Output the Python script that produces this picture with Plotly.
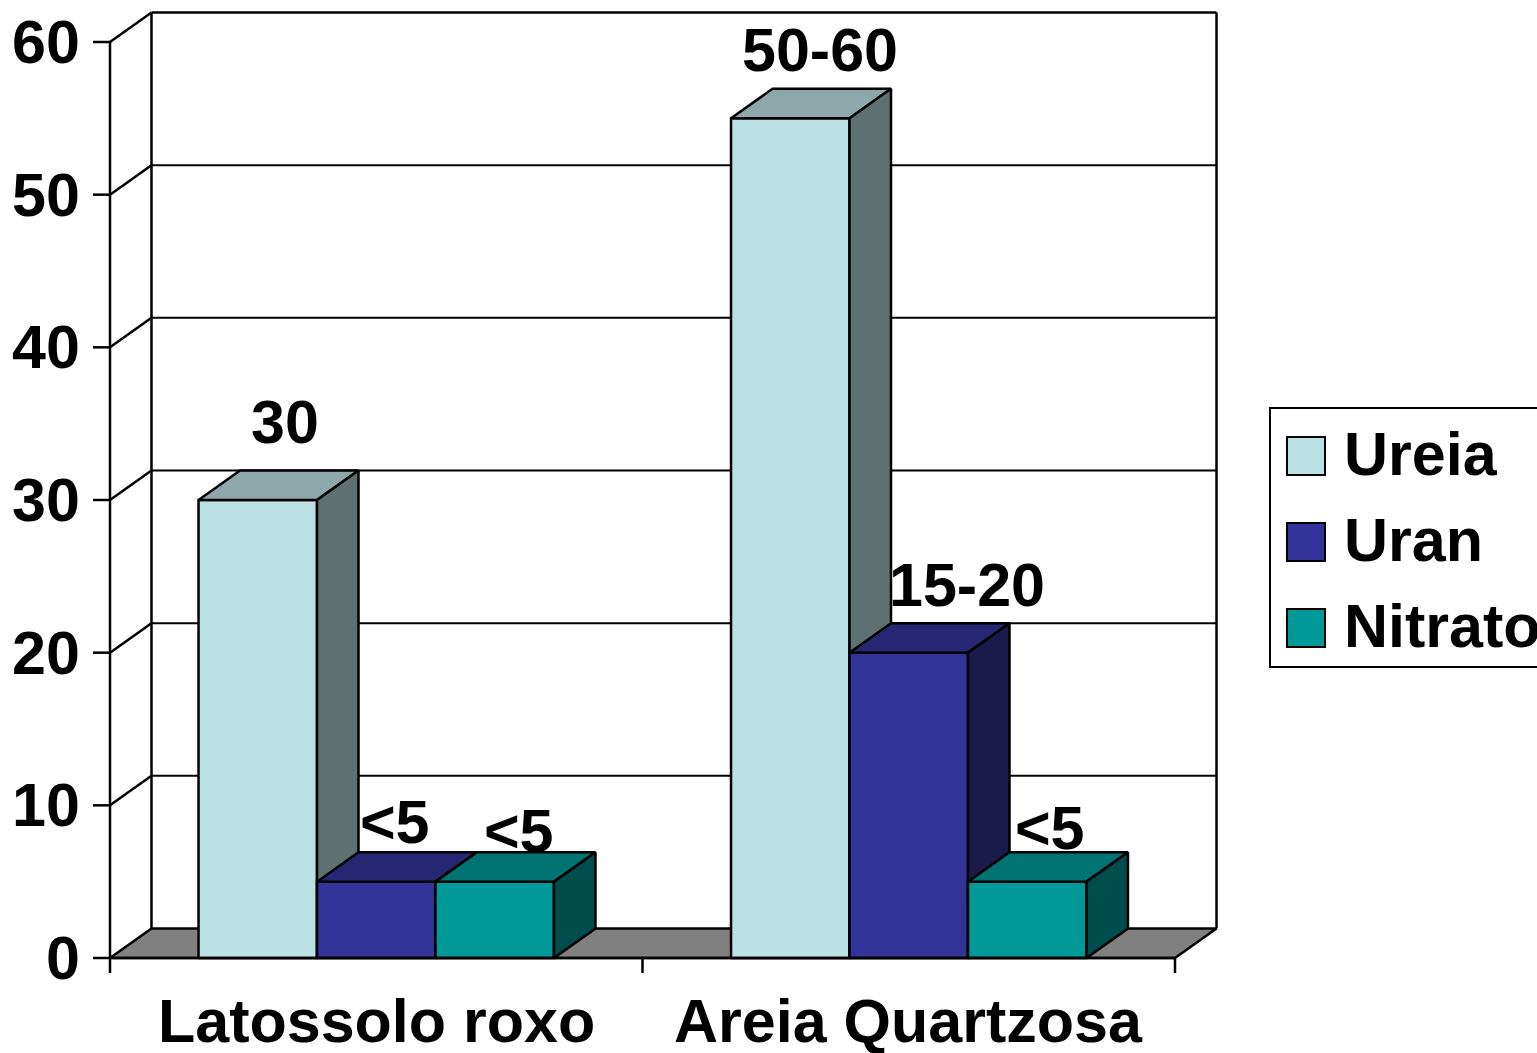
import plotly.graph_objects as go

# ---------------- data ----------------
categories = ["Latossolo roxo", "Areia Quartzosa"]
series_names = ["Ureia", "Uran", "Nitrato"]
ureia = [30, 55]
uran = [5, 20]
nitrato = [5, 5]
ureia_labels = ["30", "50-60"]
uran_labels = ["<5", "15-20"]
nitrato_labels = ["<5", "<5"]
y_ticks = [0, 10, 20, 30, 40, 50, 60]

# ---------------- styling ----------------
W, H = 1537, 1053
X0_PX, CAT_PX = 110, 532.5          # left edge of category axis, pixels per category
Y0_PX, UNIT_PX = 958, 916 / 60      # zero line, pixels per value unit
DEPTH_X_PX, DEPTH_Y_PX = 41.5, 29.5
DX = DEPTH_X_PX / CAT_PX
DY = DEPTH_Y_PX / UNIT_PX
BARGAP = 0.3325
FONT = "Liberation Sans, Arial, Helvetica, sans-serif"
FS = 61
LW = 2.5

front_colors = ["#BBE0E3", "#333399", "#009999"]
top_colors = ["#8CA8AA", "#262673", "#007373"]
side_colors = ["#5E7072", "#1A1A4D", "#004D4D"]
# manual label nudges (pixels): x offset from top-face centre, baseline height above bar's back edge
label_dx = [[6, 9], [-2, 37], [4, 2]]
label_base = [[28, 18], [9, 17], [0, 3]]

values = [ureia, uran, nitrato]
labels = [ureia_labels, uran_labels, nitrato_labels]
n_cat = len(categories)
n_ser = len(series_names)
bar_w = (1 - BARGAP) / n_ser

fig = go.Figure()


def poly(xs, ys, fill, width=LW, color="black"):
    fig.add_trace(go.Scatter(
        x=list(xs) + [xs[0]], y=list(ys) + [ys[0]], mode="lines",
        fill="toself" if fill else None, fillcolor=fill,
        line=dict(color=color, width=width), hoverinfo="skip", showlegend=False))


def line(xs, ys, width=LW):
    fig.add_trace(go.Scatter(x=xs, y=ys, mode="lines", line=dict(color="black", width=width),
                             hoverinfo="skip", showlegend=False))


ymax = y_ticks[-1]
# back wall gridlines and left wall diagonals
for t in y_ticks[1:]:
    line([DX, n_cat + DX], [t + DY, t + DY], width=2 if t < ymax else LW)
    line([0, DX], [t, t + DY])
line([DX, DX], [DY, ymax + DY])
line([n_cat + DX, n_cat + DX], [DY, ymax + DY])

# floor
poly([0, n_cat, n_cat + DX, DX], [0, 0, DY, DY], "#808080")

# bars (left to right so nearer faces overlap)
for c in range(n_cat):
    for s in range(n_ser):
        v = values[s][c]
        xc = c + 0.5 + (s - (n_ser - 1) / 2) * bar_w
        x0, x1 = xc - bar_w / 2, xc + bar_w / 2
        poly([x0, x1, x1, x0], [0, 0, v, v], front_colors[s])
        poly([x0, x1, x1 + DX, x0 + DX], [v, v, v + DY, v + DY], top_colors[s])
        poly([x1, x1 + DX, x1 + DX, x1], [0, DY, v + DY, v], side_colors[s])

# front axes
line([0, 0], [0, ymax])
line([0, n_cat], [0, 0])
tick_len_x = 17 / CAT_PX
for t in y_ticks:
    line([-tick_len_x, 0], [t, t])
tick_len_y = 15 / UNIT_PX
for c in range(n_cat + 1):
    line([c, c], [0, -tick_len_y])

annotations = []
for t in y_ticks:
    annotations.append(dict(x=0, y=t, xref="x", yref="y", text=str(t), showarrow=False,
                            xanchor="right", yanchor="middle", xshift=-28,
                            font=dict(family=FONT, size=FS, color="black", weight="bold")))
for c, name in enumerate(categories):
    annotations.append(dict(x=c + 0.5, y=0, xref="x", yref="y", text=name, showarrow=False,
                            xanchor="center", yanchor="middle", yshift=-63,
                            font=dict(family=FONT, size=FS, color="black", weight="bold")))
# data labels
for c in range(n_cat):
    for s in range(n_ser):
        v = values[s][c]
        xc = c + 0.5 + (s - (n_ser - 1) / 2) * bar_w
        annotations.append(dict(x=xc + DX / 2, y=v + DY, xref="x", yref="y", text=labels[s][c],
                                showarrow=False, xanchor="center", yanchor="bottom",
                                xshift=label_dx[s][c], yshift=label_base[s][c] - 15,
                                font=dict(family=FONT, size=FS, color="black", weight="bold")))


def px_x(p):
    return p / W


def px_y(p):
    return 1 - p / H


shapes = []
# legend box
LEG_L, LEG_T, LEG_B, LEG_R = 1270, 408, 667, 1560
shapes.append(dict(type="rect", xref="paper", yref="paper", x0=px_x(LEG_L), x1=px_x(LEG_R),
                   y0=px_y(LEG_B), y1=px_y(LEG_T), line=dict(color="black", width=2),
                   fillcolor="white", layer="above"))
SW_L, SW_SIZE, SW_T0, SW_STEP = 1287, 38, 437, 86
for s, name in enumerate(series_names):
    top = SW_T0 + s * SW_STEP
    shapes.append(dict(type="rect", xref="paper", yref="paper", x0=px_x(SW_L),
                       x1=px_x(SW_L + SW_SIZE), y0=px_y(top + SW_SIZE), y1=px_y(top),
                       line=dict(color="black", width=2), fillcolor=front_colors[s], layer="above"))
    annotations.append(dict(x=px_x(SW_L + SW_SIZE + 17), y=px_y(top + SW_SIZE / 2 - 2),
                            xref="paper", yref="paper", text=name, showarrow=False,
                            xanchor="left", yanchor="middle",
                            font=dict(family=FONT, size=61, color="black", weight="bold")))

fig.update_layout(
    width=W, height=H, margin=dict(l=0, r=0, t=0, b=0, pad=0),
    paper_bgcolor="white", plot_bgcolor="white", showlegend=False,
    xaxis=dict(visible=False, range=[(0 - X0_PX) / CAT_PX, (W - X0_PX) / CAT_PX], fixedrange=True),
    yaxis=dict(visible=False, range=[(Y0_PX - H) / UNIT_PX, Y0_PX / UNIT_PX], fixedrange=True),
    annotations=annotations, shapes=shapes,
)

fig.write_html("out.html")
